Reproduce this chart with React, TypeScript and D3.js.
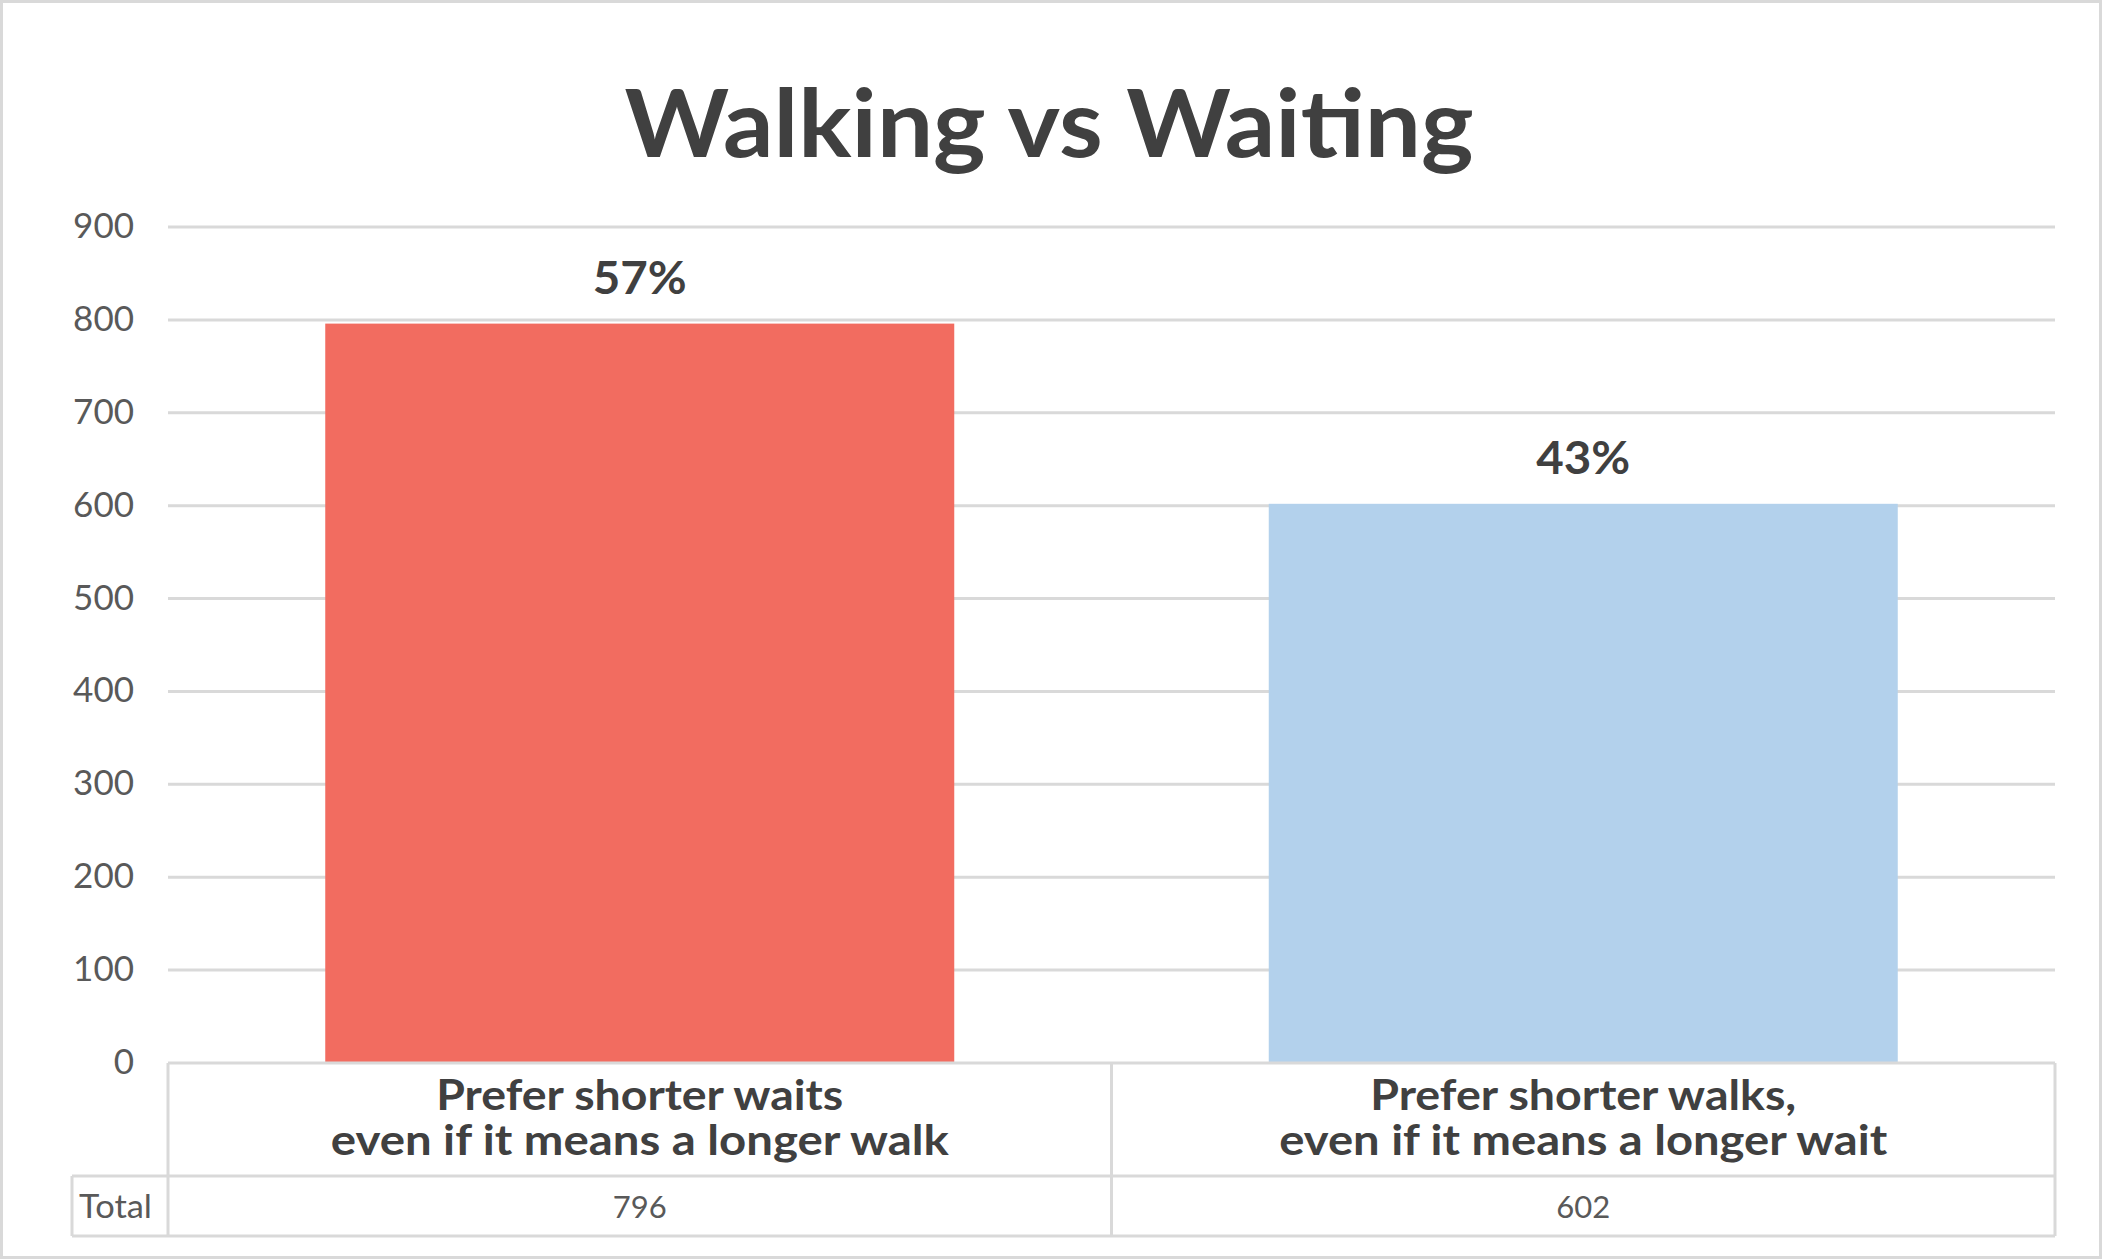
import React, { useEffect } from "react";
import * as d3 from "d3";

const categories: string[][] = [
  ["Prefer shorter waits", "even if it means a longer walk"],
  ["Prefer shorter walks,", "even if it means a longer wait"],
];
const values: number[] = [796, 602];
const percentLabels: string[] = ["57%", "43%"];
const barColors: string[] = ["#F26C60", "#B3D1EC"];
const yTicks: number[] = [0, 100, 200, 300, 400, 500, 600, 700, 800, 900];
const tableRowLabel = "Total";
const title = "Walking vs Waiting";

const W = 2103;
const H = 1260;
const FONT = "Lato, 'Open Sans', sans-serif";

// measured text widths in the reference (used to fit the substitute font)
const catWidths: number[][] = [
  [407, 618],
  [426, 608],
];

export default function App() {
  useEffect(() => {
    document.body.style.margin = "0";
  }, []);

  const x0 = 168;
  const x1 = 2055;
  const yTop = 227;
  const yBase = 1063;
  const rowDiv = 1176;
  const tableBottom = 1236;
  const totalLeft = 72;

  const y = d3.scaleLinear().domain([0, 900]).range([yBase, yTop]);
  const x = d3
    .scaleBand<number>()
    .domain(values.map((_, i) => i))
    .range([x0, x1])
    .paddingInner(0)
    .paddingOuter(0);
  const barW = x.bandwidth() / 1.5;
  const grid = "#d9d9d9";
  const dark = "#404040";

  return (
    <svg width={W} height={H} style={{ display: "block" }} fontFamily={FONT}>
      <rect x={0} y={0} width={W} height={H} fill="#fff" />
      <rect x={1.5} y={1.5} width={W - 4} height={H - 4} fill="none" stroke={grid} strokeWidth={3} />
      <text
        x={1049}
        y={157}
        textAnchor="middle"
        fontSize={93}
        fontWeight={700}
        fill={dark}
        textLength={849}
        lengthAdjust="spacingAndGlyphs"
      >
        {title}
      </text>
      {yTicks.map((t) => (
        <g key={t}>
          {t > 0 && (
            <line x1={x0} x2={x1} y1={y(t)} y2={y(t)} stroke={grid} strokeWidth={3} />
          )}
          <text x={134} y={y(t) + 11} textAnchor="end" fontSize={35} fill="#595959">
            {t}
          </text>
        </g>
      ))}
      {values.map((v, i) => {
        const cx = (x(i) as number) + x.bandwidth() / 2;
        return (
          <g key={i}>
            <rect x={cx - barW / 2} y={y(v)} width={barW} height={yBase - y(v)} fill={barColors[i]} />
            <text
              x={cx}
              y={y(v) - 30}
              textAnchor="middle"
              fontSize={46}
              fontWeight={700}
              fill={dark}
              textLength={94}
              lengthAdjust="spacingAndGlyphs"
            >
              {percentLabels[i]}
            </text>
            <text textAnchor="middle" fontSize={42} fontWeight={700} fill={dark}>
              <tspan x={cx} y={1110} textLength={catWidths[i][0]} lengthAdjust="spacingAndGlyphs">
                {categories[i][0]}
              </tspan>
              <tspan x={cx} y={1155} textLength={catWidths[i][1]} lengthAdjust="spacingAndGlyphs">
                {categories[i][1]}
              </tspan>
            </text>
            <text x={cx} y={1218} textAnchor="middle" fontSize={31} fill="#595959">
              {v}
            </text>
          </g>
        );
      })}
      {/* table lines */}
      <line x1={x0} x2={x1} y1={yBase} y2={yBase} stroke={grid} strokeWidth={3} />
      <line x1={totalLeft} x2={x1} y1={rowDiv} y2={rowDiv} stroke={grid} strokeWidth={3} />
      <line x1={totalLeft} x2={x1} y1={tableBottom} y2={tableBottom} stroke={grid} strokeWidth={3} />
      <line x1={totalLeft} x2={totalLeft} y1={rowDiv} y2={tableBottom} stroke={grid} strokeWidth={3} />
      {[x0, x(1) as number, x1].map((xx, i) => (
        <line key={i} x1={xx} x2={xx} y1={yBase} y2={tableBottom} stroke={grid} strokeWidth={3} />
      ))}
      <text x={79} y={1218} fontSize={32} fill="#595959" textLength={73} lengthAdjust="spacingAndGlyphs">
        {tableRowLabel}
      </text>
    </svg>
  );
}
